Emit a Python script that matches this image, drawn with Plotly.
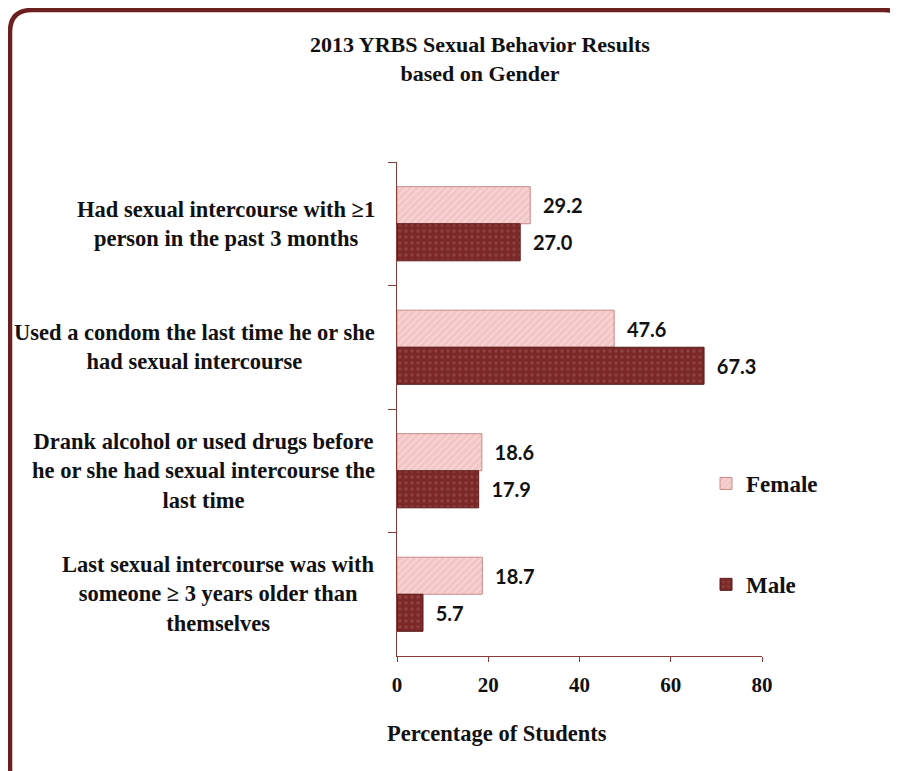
import plotly.graph_objects as go

categories = [
    "Had sexual intercourse with ≥1<br>person in the past 3 months",
    "Used a condom the last time he or she<br>had sexual intercourse",
    "Drank alcohol or used drugs before<br>he or she had sexual intercourse the<br>last time",
    "Last sexual intercourse was with<br>someone ≥ 3 years older than<br>themselves",
]
female = [29.2, 47.6, 18.6, 18.7]
male = [27.0, 67.3, 17.9, 5.7]
x_ticks = [0, 20, 40, 60, 80]

OFF = 8  # page body margin
SW, SH = 898, 771
W, H = SW - OFF, SH - OFF
L, R, T, B = 397, 762, 162, 656  # plot area in screen pixels

def xp(px):
    return (px - L) / (R - L)

def yp(py):
    return (B - py) / (B - T)

SERIF = "Liberation Serif, Times New Roman, serif"
LABEL_FONT = "Lato, Open Sans, sans-serif"

fig = go.Figure()
fig.add_trace(go.Bar(
    y=categories, x=female, orientation="h", name="Female",
    legendgroup="f",
    marker=dict(color="#f3c6c6", line=dict(color="#c98888", width=1),
                pattern=dict(shape="/", fgcolor="#ffffff", fgopacity=0.3, size=5, solidity=0.3)),
    texttemplate="\u00a0\u00a0%{x:.1f}", textposition="outside", cliponaxis=False,
    textfont=dict(family=LABEL_FONT, size=20, color="#111111", weight="bold"),
))
fig.add_trace(go.Bar(
    y=categories, x=male, orientation="h", name="Male",
    legendgroup="m",
    marker=dict(color="#7a2828", line=dict(color="#5a1a1a", width=1),
                pattern=dict(shape=".", fgcolor="#a45858", fgopacity=0.5, size=6, solidity=0.25)),
    texttemplate="\u00a0\u00a0%{x:.1f}", textposition="outside", cliponaxis=False,
    textfont=dict(family=LABEL_FONT, size=20, color="#111111", weight="bold"),
))

# category labels as centered multi-line annotations
for c in categories:
    fig.add_annotation(
        x=xp(377), y=c, xref="paper", yref="y", xanchor="right", yanchor="middle",
        text="<b>" + c.replace("<br>", "</b><br><b>") + "</b>", align="center",
        showarrow=False, font=dict(family=SERIF, size=22.5, color="#111111"),
    )

# x-axis title (offset to the left like the original)
fig.add_annotation(
    x=xp(497), y=yp(733), xref="paper", yref="paper", xanchor="center", yanchor="middle",
    text="<b>Percentage of Students</b>", showarrow=False,
    font=dict(family=SERIF, size=22.5, color="#111111"),
)

# rounded border
x0, x1, y0, y1 = xp(10), xp(906), yp(10), yp(790)
rx, ry = 22 / (R - L), 22 / (B - T)
path = (f"M {x0+rx},{y0} L {x1-rx},{y0} Q {x1},{y0} {x1},{y0-ry} "
        f"L {x1},{y1+ry} Q {x1},{y1} {x1-rx},{y1} L {x0+rx},{y1} "
        f"Q {x0},{y1} {x0},{y1+ry} L {x0},{y0-ry} Q {x0},{y0} {x0+rx},{y0} Z")
fig.add_shape(type="path", path=path, xref="paper", yref="paper",
              line=dict(color="#6b1f1f", width=4.5), layer="above")

fig.update_layout(
    width=W, height=H,
    margin=dict(l=L - OFF, r=SW - R, t=T - OFF, b=SH - B, autoexpand=False),
    paper_bgcolor="white", plot_bgcolor="white",
    barmode="group", bargap=0.4, bargroupgap=0,
    title=dict(text="<b>2013 YRBS Sexual Behavior Results<br>based on Gender</b>",
               x=(480 - OFF) / W, xanchor="center", y=1 - (52 - OFF) / H, yanchor="top",
               font=dict(family=SERIF, size=22, color="#111111")),
    showlegend=True,
    legend=dict(x=xp(706), y=yp(462), xanchor="left", yanchor="top",
                traceorder="grouped", tracegroupgap=68, itemwidth=30,
                font=dict(family=SERIF, size=23, color="#111111", weight="bold"),
                bgcolor="rgba(0,0,0,0)"),
    xaxis=dict(range=[0, 80], tickvals=x_ticks, ticks="outside", ticklen=5,
               tickcolor="#8b3a3a", showline=True, linecolor="#8b3a3a", linewidth=1,
               showgrid=False, zeroline=False, ticklabelstandoff=5,
               tickfont=dict(family=SERIF, size=21, color="#111111", weight="bold")),
    yaxis=dict(autorange="reversed", showticklabels=False, ticks="outside", ticklen=8,
               tickson="boundaries", tickcolor="#8b3a3a", showline=True,
               linecolor="#8b3a3a", linewidth=1, showgrid=False),
)

fig.write_html("out.html")
